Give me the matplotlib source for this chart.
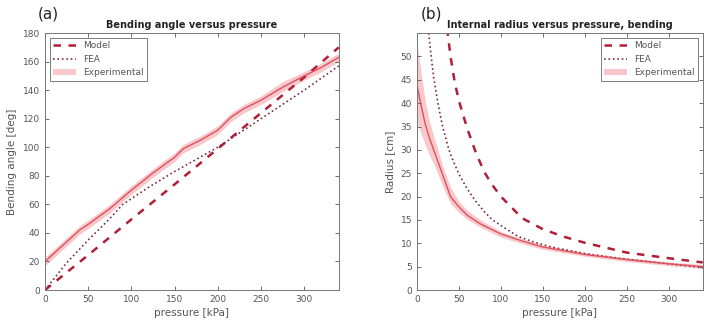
import numpy as np
import matplotlib.pyplot as plt

# (a) bending angle
model_a_x = [0, 50, 100, 150, 200, 250, 300, 340]
model_a_y = [0, 24.5, 49.5, 74, 99, 124, 149, 170]
fea_a_x = [0, 25, 50, 75, 90, 120, 150, 200, 250, 300, 340]
fea_a_y = [0, 19, 35, 50, 60, 72, 83, 100, 120, 140, 157]
exp_a_x = [0, 20, 40, 50, 75, 100, 125, 150, 160, 180, 200, 215, 230, 250, 275, 300, 320, 340]
exp_a_y = [20, 31, 42, 46, 57, 70, 82, 93, 99, 105, 112, 121, 127, 133, 142, 150, 156, 163]
exp_a_lo = [17, 28, 39, 43, 54, 67, 79, 90, 96, 102, 109, 118, 124, 130, 139, 147, 153, 160]
exp_a_hi = [23, 34, 45, 49, 60, 73, 85, 96, 102, 108, 115, 124, 130, 136, 146, 153, 159, 166]

# (b) internal radius
model_b_x = [36, 38, 40, 45, 50, 55, 60, 70, 80, 90, 100, 125, 150, 175, 200, 250, 300, 340]
model_b_y = [56, 53, 50, 44.5, 40.5, 37.5, 34.5, 29.5, 25.3, 22.4, 20, 15.4, 13.0, 11.4, 10.1, 8, 6.8, 5.9]
fea_b_x = [14, 17, 20, 25, 30, 35, 40, 50, 60, 70, 80, 90, 100, 120, 140, 160, 200, 240, 280, 340]
fea_b_y = [55, 50, 45.5, 40, 35.5, 32, 29, 24.8, 21.6, 19.0, 16.8, 15.0, 13.8, 11.5, 10.2, 9.2, 7.8, 6.8, 6.0, 4.8]
exp_b_x = [0, 5, 10, 15, 20, 25, 30, 35, 40, 50, 60, 75, 100, 125, 150, 200, 250, 300, 340]
exp_b_y = [44, 39.5, 35.5, 32.5, 30, 27.5, 25, 22.5, 20, 17.8, 16, 14.2, 12, 10.5, 9.2, 7.6, 6.5, 5.6, 5.0]
exp_b_lo = [36, 33.5, 31, 28.8, 27, 24.8, 22.5, 20.5, 18.5, 16.6, 15.1, 13.5, 11.3, 9.9, 8.7, 7.2, 6.1, 5.2, 4.6]
exp_b_hi = [53, 46.5, 40.5, 36, 33, 30, 27, 24.5, 22, 19, 17, 15.1, 12.5, 11, 9.6, 8, 6.9, 6, 5.5]

c_model = '#b01f35'
c_fea = '#7a2a45'
c_exp = '#e0505c'
c_band = '#f6bcc0'
grey = '#555555'

fig = plt.figure(figsize=(7.2, 3.29), dpi=100)
ax1 = fig.add_axes([0.0625, 0.1185, 0.408, 0.781])
ax2 = fig.add_axes([0.579, 0.1185, 0.397, 0.781])

def draw(ax, mx, my, fx, fy, ex, ey, elo, ehi, loc):
    ax.fill_between(ex, elo, ehi, color=c_band, alpha=0.8, lw=0, label='Experimental')
    ax.plot(mx, my, '--', color=c_model, lw=1.8, dashes=(3, 3), label='Model')
    ax.plot(fx, fy, ':', color=c_fea, lw=1.2, label='FEA')
    ax.plot(ex, ey, '-', color=c_exp, lw=1.0)
    h, l = ax.get_legend_handles_labels()
    order = [1, 2, 0]
    leg = ax.legend([h[i] for i in order], [l[i] for i in order], loc=loc,
                    fontsize=6.5, fancybox=False, edgecolor='#444444',
                    handlelength=2.5, labelcolor=grey)
    leg.get_frame().set_linewidth(0.6)
    ax.set_xlim(0, 340)
    ax.set_xticks([0, 50, 100, 150, 200, 250, 300])
    ax.tick_params(direction='in', top=True, right=True, labelsize=6.5,
                   labelcolor=grey, length=3, width=0.6, color='#555555')
    for s in ax.spines.values():
        s.set_color('#777777')
        s.set_linewidth(0.7)
    ax.set_xlabel('pressure [kPa]', fontsize=7.5, color=grey, labelpad=3)

draw(ax1, model_a_x, model_a_y, fea_a_x, fea_a_y, exp_a_x, exp_a_y, exp_a_lo, exp_a_hi, 'upper left')
ax1.set_ylim(0, 180)
ax1.set_yticks(range(0, 181, 20))
ax1.set_ylabel('Bending angle [deg]', fontsize=7.5, color=grey)
ax1.set_title('Bending angle versus pressure', fontsize=7, fontweight='bold', color='#222222', pad=4)

draw(ax2, model_b_x, model_b_y, fea_b_x, fea_b_y, exp_b_x, exp_b_y, exp_b_lo, exp_b_hi, 'upper right')
ax2.set_ylim(0, 55)
ax2.set_yticks(range(0, 51, 5))
ax2.set_ylabel('Radius [cm]', fontsize=7.5, color=grey)
ax2.set_title('Internal radius versus pressure, bending', fontsize=7, fontweight='bold', color='#222222', pad=4)

fig.text(0.052, 0.945, '(a)', fontsize=11, color='#222222')
fig.text(0.584, 0.945, '(b)', fontsize=11, color='#222222')

fig.savefig('out.png', dpi=100)
